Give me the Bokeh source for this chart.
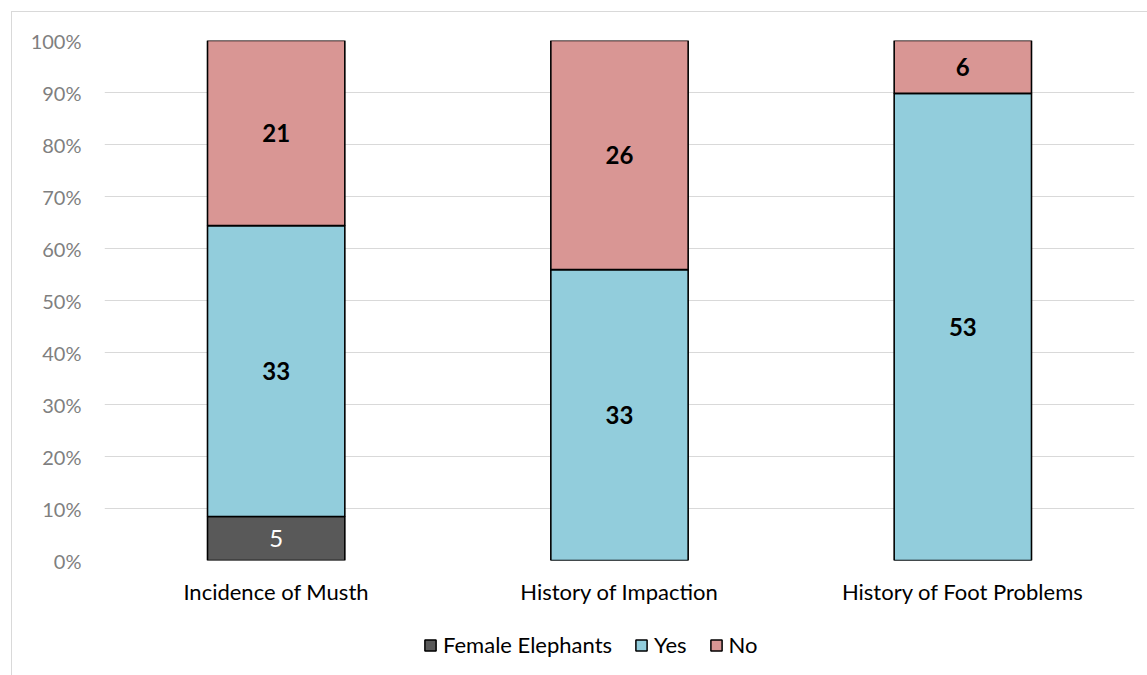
from bokeh.plotting import figure
from bokeh.layouts import column
from bokeh.models import (FactorRange, Range1d, FixedTicker, NumeralTickFormatter,
                          Legend, LegendItem, ColumnDataSource)
from bokeh.core.properties import value
from bokeh.embed import file_html
from bokeh.resources import INLINE

categories = ["Incidence of Musth", "History of Impaction", "History of Foot Problems"]
series = ["Female Elephants", "Yes", "No"]
female = [5, 0, 0]
yes = [33, 33, 53]
no = [21, 26, 6]
colors = ["#595959", "#92CDDC", "#D99694"]
y_ticks = [0, 0.1, 0.2, 0.3, 0.4, 0.5, 0.6, 0.7, 0.8, 0.9, 1.0]

FONT = "Lato"
GRID = "#d9d9d9"

totals = [f + y + n for f, y, n in zip(female, yes, no)]
data = {
    "cat": categories,
    "Female Elephants": [f / t for f, t in zip(female, totals)],
    "Yes": [y / t for y, t in zip(yes, totals)],
    "No": [n / t for n, t in zip(no, totals)],
}
src = ColumnDataSource(data)

H1 = 615
p = figure(x_range=FactorRange(*categories), y_range=Range1d(0, 1),
           width=1147, height=H1, output_backend="svg", toolbar_location=None,
           min_border_top=40, min_border_left=104, min_border_right=13, min_border_bottom=55)
p.border_fill_color = None
p.background_fill_color = "white"
p.outline_line_color = None
p.styles = {
    "background-image": f"linear-gradient({GRID},{GRID}), linear-gradient({GRID},{GRID})",
    "background-position": "11px 11px, 11px 11px",
    "background-size": "calc(100% - 11px) 1px, 1px calc(100% - 11px)",
    "background-repeat": "no-repeat, no-repeat",
}

rs = p.vbar_stack(series, x="cat", width=0.4, source=src, color=colors,
                  line_color="black", line_width=1.6)

p.yaxis.ticker = FixedTicker(ticks=y_ticks)
p.yaxis.formatter = NumeralTickFormatter(format="0%")
p.yaxis.axis_line_color = None
p.yaxis.major_tick_line_color = None
p.yaxis.minor_tick_line_color = None
p.yaxis.major_label_text_font = FONT
p.yaxis.major_label_text_font_size = "20px"
p.yaxis.major_label_text_color = "#7f7f7f"
p.yaxis.major_label_standoff = 17

p.xaxis.axis_line_color = None
p.xaxis.major_tick_line_color = None
p.xaxis.minor_tick_line_color = None
p.xaxis.major_label_text_font = FONT
p.xaxis.major_label_text_font_size = "22px"
p.xaxis.major_label_text_color = "#000000"
p.xaxis.major_label_standoff = 11

p.xgrid.grid_line_color = None
p.ygrid.grid_line_color = GRID
p.ygrid.grid_line_width = 1.2

# data labels
lab_x, lab_y, lab_t, lab_c, lab_s = [], [], [], [], []
for i, c in enumerate(categories):
    base = 0.0
    for s, col_vals, tc, st in [("Female Elephants", female, "white", "normal"),
                                ("Yes", yes, "black", "bold"),
                                ("No", no, "black", "bold")]:
        frac = data[s][i]
        if col_vals[i] > 0:
            lab_x.append(c)
            lab_y.append(base + frac / 2)
            lab_t.append(str(col_vals[i]))
            lab_c.append(tc)
            lab_s.append(st)
        base += frac
lsrc = ColumnDataSource(dict(x=lab_x, y=lab_y, t=lab_t, c=lab_c, s=lab_s))
p.text(x="x", y="y", text="t", source=lsrc, text_color="c", text_font_style="s",
       text_font=value(FONT), text_font_size="24px", text_align="center",
       text_baseline="middle")

# legend strip below the chart (its frame is aligned with the chart's frame)
p2 = figure(width=1147, height=675 - H1, output_backend="svg", toolbar_location=None,
            x_range=Range1d(0, 1), y_range=Range1d(0, 1),
            x_axis_location=None, y_axis_location=None,
            min_border_top=0, min_border_left=0, min_border_right=0, min_border_bottom=0)
p2.border_fill_color = None
p2.background_fill_color = None
p2.outline_line_color = None
p2.grid.visible = False
p2.styles = {
    "background-image": f"linear-gradient({GRID},{GRID})",
    "background-position": "11px 0px",
    "background-size": "1px 100%",
    "background-repeat": "no-repeat",
}
# swatch renderers: one undrawable (NaN) mark each, only the legend shows them
nan = float("nan")
swatches = [p2.vbar(x=[nan], top=[nan], bottom=[nan], width=0.1, fill_color=c,
                    line_color="black", line_width=1.5)
            for c in colors]
legend = Legend(items=[LegendItem(label=s, renderers=[r]) for s, r in zip(series, swatches)],
                orientation="horizontal", location=(319, 17),
                border_line_color=None, background_fill_color=None,
                label_text_font=FONT, label_text_font_size="22px",
                label_text_color="#000000", glyph_width=14, glyph_height=14,
                label_standoff=6, spacing=22, padding=0, margin=0)
p2.add_layout(legend, "center")

layout = column(p, p2, spacing=0)
open("out.html", "w").write(file_html(layout, INLINE))
